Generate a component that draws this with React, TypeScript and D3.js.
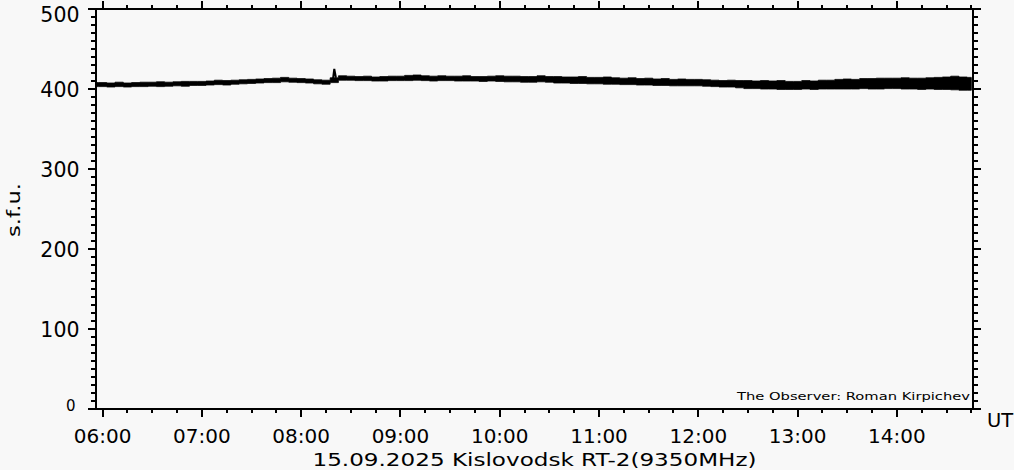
import React from 'react';
import * as d3 from 'd3';

// ---- data ----
const domainStart = '05:56';
const domainEnd = '14:46';
const seriesStart = '05:55';
const stepMinutes = 5;

// lower / upper edge of the noisy 9350 MHz flux trace, s.f.u., every 5 min from 05:55
const lowSfu = [
  403,
  403, 402.5, 403, 402.5, 403, 403, 403.5, 403, 403.5, 404, 403.5, 404.5,
  404.5, 405, 405.5, 405, 406, 406.5, 407, 407.5, 408, 408, 409, 408.5,
  408, 407.5, 406.5, 406, 408, 411, 411, 410.5, 410.5, 410, 410, 410.5,
  410.5, 410.5, 411, 410.5, 410, 410.5, 410.5, 410, 410, 410, 409.5, 410,
  409.5, 409, 409, 408.5, 408.5, 409, 408.5, 407.5, 407.5, 407, 407, 406.5,
  406.5, 406, 406, 405.5, 405.5, 405, 405, 404.5, 404.5, 404, 404, 404,
  404, 403.5, 403, 402.5, 402.5, 401.5, 400.5, 400.5, 400, 400, 399.5, 399.5,
  399.5, 400, 399.5, 400, 400, 400, 400, 400, 400.5, 400, 400, 400.5,
  400.5, 400, 400, 399.5, 400, 399.5, 399.5, 399, 398.5, 398.5,
];
const highSfu = [
  408,
  408, 407.5, 408.5, 407.5, 408, 408.5, 408.5, 409, 408.5, 409, 409.5, 409.5,
  409.5, 410, 411, 410.5, 411, 411.5, 412, 412.5, 413, 413.5, 414.5, 413.5,
  413, 412.5, 411.5, 411, 414, 416.5, 416, 415.5, 416, 415, 415.5, 416,
  416, 417, 417.5, 416.5, 416, 416.5, 416, 416, 416.5, 415.5, 415.5, 416,
  416.5, 416, 416, 415.5, 415.5, 416.5, 415.5, 415.5, 415, 415, 415.5, 414.5,
  414.5, 415, 414, 413.5, 414, 413, 413.5, 412.5, 413, 412, 412.5, 412,
  412, 411.5, 411, 410.5, 411, 410.5, 410.5, 410, 410.5, 410, 410.5, 409.5,
  409.5, 410.5, 410, 411, 411, 412, 412.5, 412, 413, 413, 413.5, 413.5,
  413.5, 414, 413.5, 413.5, 414, 414.5, 415, 416, 415, 414.5,
];

// short burst near 08:20
const burstTimes = ['08:19', '08:20', '08:21'];
const burstSfu = [409, 425, 414];

const yMajorTicks = [0, 100, 200, 300, 400, 500];
const xTickLabels = ['06:00', '07:00', '08:00', '09:00', '10:00', '11:00', '12:00', '13:00', '14:00'];
const yAxisTitle = 's.f.u.';
const xUnit = 'UT';
const chartTitle = '15.09.2025 Kislovodsk RT-2(9350MHz)';
const observerNote = 'The Observer: Roman Kirpichev';

// ---- layout ----
const W = 1014;
const H = 470;
const left = 96;
const right = 973;
const top = 9;
const bottom = 409;
const FONT = '"DejaVu Sans", sans-serif';
const BG = '#f8f8f8';

export default function App() {
  const parse = d3.timeParse('%H:%M');
  const x = d3.scaleTime().domain([parse(domainStart)!, parse(domainEnd)!]).range([left, right]);
  const y = d3.scaleLinear().domain([0, 500]).range([bottom, top]);

  const t0 = parse(seriesStart)!;
  const band = lowSfu.map((lo, i) => ({
    t: d3.timeMinute.offset(t0, i * stepMinutes),
    lo,
    hi: highSfu[i],
  }));
  const area = d3
    .area<{ t: Date; lo: number; hi: number }>()
    .x((d) => x(d.t))
    .y0((d) => y(d.lo))
    .y1((d) => y(d.hi))
    .curve(d3.curveStep);

  const burst = burstTimes.map((s, i) => ({ t: parse(s)!, v: burstSfu[i] }));
  const burstLine = d3
    .line<{ t: Date; v: number }>()
    .x((d) => x(d.t))
    .y((d) => y(d.v));

  const [d0, d1] = x.domain();
  const xMinor = d3.timeMinute.every(15)!.range(d0, d1);
  const xMajor = xTickLabels.map((s) => parse(s)!);
  const yMinor = y.ticks(50);

  const sw = 2;

  return (
    <div style={{ position: 'absolute', left: 0, top: 0, width: W, height: H, background: BG }}>
      <svg width={W} height={H} style={{ display: 'block' }}>
        <rect x={0} y={0} width={W} height={H} fill={BG} />
        <defs>
          <clipPath id="plot">
            <rect x={left} y={top} width={right - left} height={bottom - top} />
          </clipPath>
        </defs>

        {/* data */}
        <g clipPath="url(#plot)">
          <path d={area(band) || ''} fill="#000" stroke="#000" strokeWidth={0.8} />
          <path d={burstLine(burst) || ''} fill="none" stroke="#000" strokeWidth={2} />
        </g>

        {/* frame */}
        <g stroke="#000" strokeWidth={sw} shapeRendering="crispEdges">
          <rect x={left} y={top} width={right - left} height={bottom - top} fill="none" />
          {yMinor.map((v) => {
            const major = v % 100 === 0;
            const len = major ? 8 : 5;
            return (
              <g key={'y' + v}>
                <line x1={left - len} x2={left} y1={y(v)} y2={y(v)} />
                <line x1={right} x2={right + len} y1={y(v)} y2={y(v)} />
              </g>
            );
          })}
          {xMinor.map((t) => {
            const major = t.getMinutes() === 0;
            const len = major ? 8 : 4;
            return (
              <g key={'x' + t.getTime()}>
                <line x1={x(t)} x2={x(t)} y1={bottom} y2={bottom + len} />
                <line x1={x(t)} x2={x(t)} y1={top} y2={top - len} />
              </g>
            );
          })}
        </g>

        {/* labels */}
        <g fontFamily={FONT} fill="#000">
          {yMajorTicks.map((v) => {
            if (v === 0) {
              return (
                <text key={v} x={75.5} y={410.5} fontSize={15} textAnchor="end">
                  {v}
                </text>
              );
            }
            const by = v === 500 ? 22 : y(v) + 8;
            return (
              <text key={v} x={79.5} y={by} fontSize={20.5} textAnchor="end">
                {v}
              </text>
            );
          })}
          {xMajor.map((t, i) => (
            <text key={xTickLabels[i]} x={x(t)} y={443} fontSize={20} textAnchor="middle">
              {xTickLabels[i]}
            </text>
          ))}
          <text x={987} y={427} fontSize={19.5}>
            {xUnit}
          </text>
          <text
            x={(left + right) / 2}
            y={465.5}
            fontSize={18}
            textAnchor="middle"
            textLength={444}
            lengthAdjust="spacingAndGlyphs"
          >
            {chartTitle}
          </text>
          <text
            transform={`translate(19.5,210) rotate(-90)`}
            fontSize={17}
            textAnchor="middle"
            textLength={54}
            lengthAdjust="spacingAndGlyphs"
          >
            {yAxisTitle}
          </text>
          <text x={737} y={399.5} fontSize={10.5} textLength={233} lengthAdjust="spacingAndGlyphs">
            {observerNote}
          </text>
        </g>
      </svg>
    </div>
  );
}
